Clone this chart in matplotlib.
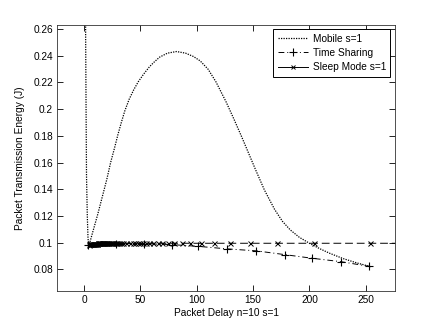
import matplotlib
matplotlib.use("Agg")
import matplotlib.pyplot as plt
from matplotlib.lines import Line2D

plt.rcParams['font.family'] = ['Liberation Sans', 'DejaVu Sans']

# ---- data ----
mobile_x = [1.0, 1.3, 1.7, 2.1, 2.8, 3.4, 4.0,
            8, 12, 16, 20, 23.5, 27, 30, 33, 36, 40, 44, 48, 53, 58, 62, 67, 74, 82,
            90, 97, 103, 110, 117, 126, 133, 140, 146, 152, 160, 169, 176, 183, 191,
            200, 209, 218, 230, 242, 255]
mobile_y = [0.35, 0.26, 0.20, 0.15, 0.12, 0.104, 0.0970,
            0.109, 0.121, 0.134, 0.147, 0.160, 0.171, 0.181, 0.190, 0.1985, 0.2075, 0.2145,
            0.2205, 0.2265, 0.2318, 0.2352, 0.2390, 0.2420, 0.2432,
            0.2420, 0.2395, 0.2362, 0.2300, 0.2205, 0.2055, 0.1925, 0.1790, 0.1670, 0.1550,
            0.1395, 0.1250, 0.1160, 0.1095, 0.1040,
            0.0995, 0.0955, 0.0920, 0.0880, 0.0848, 0.0818]

ts_x = [3.5, 28, 53, 78, 101, 127, 153, 178, 202, 228, 253]
ts_y = [0.0980, 0.0993, 0.0992, 0.0985, 0.0972, 0.0953, 0.0938, 0.0910, 0.0883, 0.0857, 0.0822]

sleep_x = [4, 4.5, 5, 5.5, 6, 6.5, 7, 7.5, 8, 8.5, 9, 9.5, 10, 10.5, 11, 11.5, 12, 12.5,
           13, 13.5, 14, 14.5, 15, 15.5, 16, 16.5, 17, 17.5, 18, 18.5, 19, 19.5, 20, 21,
           22, 23, 24, 25, 26, 27, 28, 29, 30.8, 32.7, 34.9, 37.4, 40.3, 43.6, 45.5,
           47.5, 49.8, 52.2, 55.0, 58.0, 61.4, 65.2, 69.5, 74.4, 80.1, 86.7, 94.4, 103.7,
           115.1, 129.2, 147.3, 171.2, 204.5, 253.8, 334.0]
sleep_y = [0.0984, 0.0986, 0.0987, 0.0988, 0.0989, 0.0990, 0.0990, 0.0991, 0.0991, 0.0992,
           0.0992, 0.0992, 0.0993, 0.0993, 0.0993, 0.0993, 0.0994, 0.0994, 0.0994, 0.0994,
           0.0994, 0.0994, 0.0994, 0.0994, 0.0995, 0.0995, 0.0995, 0.0995, 0.0995, 0.0995,
           0.0995, 0.0995, 0.0995, 0.0995, 0.0995, 0.0995, 0.0995, 0.0995, 0.0995, 0.0995,
           0.0995, 0.0995, 0.0995, 0.0995, 0.0995, 0.0995, 0.0995, 0.0995, 0.0995, 0.0995,
           0.0995, 0.0995, 0.0995, 0.0995, 0.0995, 0.0995, 0.0995, 0.0995, 0.0995, 0.0995,
           0.0995, 0.0995, 0.0995, 0.0995, 0.0995, 0.0995, 0.0995, 0.0995, 0.0995]

labels = ["Mobile s=1", "Time Sharing", "Sleep Mode s=1"]
xticks = [0, 50, 100, 150, 200, 250]
yticks = [0.08, 0.10, 0.12, 0.14, 0.16, 0.18, 0.20, 0.22, 0.24, 0.26]
ytick_labels = ["0.08", "0.1", "0.12", "0.14", "0.16", "0.18", "0.2", "0.22", "0.24", "0.26"]

fs = 7.3
fig = plt.figure(figsize=(4.36, 3.27), dpi=100)
ax = fig.add_axes([0.131, 0.110, 0.775, 0.814])

ax.plot(mobile_x, mobile_y, color='black', linestyle=(0, (1, 1)), linewidth=0.9)
ax.plot(ts_x, ts_y, color='black', linestyle=(0, (6, 3, 1, 3)), linewidth=0.7,
        marker='+', markersize=6, markeredgewidth=0.8)
ax.plot(sleep_x, sleep_y, color='black', linestyle=(0, (8, 4)), linewidth=0.7,
        marker='x', markersize=3.6, markeredgewidth=0.7)

ax.set_xlim(-24, 276)
ax.set_ylim(0.0637, 0.2632)
ax.set_xticks(xticks)
ax.set_yticks(yticks)
ax.set_yticklabels(ytick_labels)
ax.tick_params(direction='in', top=True, right=True, length=4, width=0.6,
               labelsize=fs, pad=3)
for s in ax.spines.values():
    s.set_linewidth(0.6)
    s.set_color('#333333')

ax.set_xlabel("Packet Delay n=10 s=1", fontsize=fs, labelpad=2)
ax.set_ylabel("Packet Transmission Energy (J)", fontsize=fs, labelpad=6)

handles = [
    Line2D([], [], color='black', linestyle=(0, (1, 1)), linewidth=0.9),
    Line2D([], [], color='black', linestyle=(0, (6, 3, 1, 3)), linewidth=0.7,
           marker='+', markersize=6, markeredgewidth=0.8),
    Line2D([], [], color='black', linestyle='-', linewidth=0.7,
           marker='x', markersize=3.5, markeredgewidth=0.7),
]
leg = ax.legend(handles, labels, loc='upper right', fontsize=fs, fancybox=False,
                framealpha=1, edgecolor='black', handlelength=3.0, handletextpad=0.45,
                borderpad=0.45, labelspacing=0.4, borderaxespad=0.45)
leg.get_frame().set_linewidth(0.7)

fig.savefig("out.png", dpi=100)
